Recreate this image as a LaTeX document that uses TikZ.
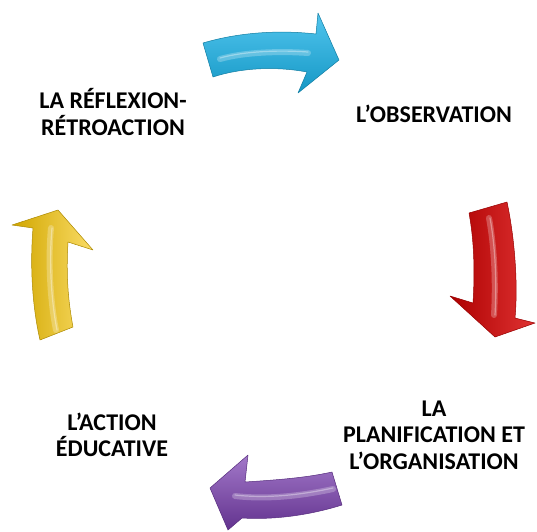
\documentclass[tikz,border=0pt]{standalone}
\usepackage{fontspec}
\setmainfont{Carlito}
\usetikzlibrary{positioning}
\usetikzlibrary{shadings}

\definecolor{cycleblue}{HTML}{18B2E8}
\definecolor{cyclered}{HTML}{D80000}
\definecolor{cyclepurple}{HTML}{7B3FB2}
\definecolor{cycleyellow}{HTML}{F6C400}

\tikzset{
  steplabel/.style={font=\bfseries\fontsize{24}{26.5}\selectfont, align=center, inner sep=0pt},
  bodyedge/.style={draw=#1!70!black, line width=0.5pt, line join=round},
  ridge/.style={draw=white, opacity=0.25, line width=6pt, line cap=round},
  ridgeline/.style={draw=white, opacity=0.35, line width=1.2pt, line cap=round}
}

\begin{document}
\begin{tikzpicture}[x=1pt,y=-1pt]
  \useasboundingbox (0,0) rectangle (537,531);

  % the four stages
  \node[steplabel] (reflexion) at (113,112) {LA RÉFLEXION-\\RÉTROACTION};
  \node[steplabel] (observation) at (434,114) {L’OBSERVATION};
  \node[steplabel] (planification) at (434,435) {LA\\PLANIFICATION ET\\L’ORGANISATION};
  \node[steplabel] (action) at (112,435) {L’ACTION\\ÉDUCATIVE};

  % blue arrow (top)
  \shade[bodyedge=cycleblue, top color=cycleblue!75!white, middle color=cycleblue, bottom color=cycleblue!85!black]
    (203,43) .. controls (240,32) and (280,30) .. (316,34) -- (318,13) -- (339,60)
    -- (298,93) -- (307,72) .. controls (275,66) and (240,68) .. (213,77) -- cycle;
  \draw[ridge] (220,59) .. controls (245,52) and (280,51) .. (308,53);
  \draw[ridgeline] (220,58) .. controls (245,51) and (280,50) .. (308,52);

  % red arrow (right)
  \shade[bodyedge=cyclered, left color=cyclered!80!black, middle color=cyclered, right color=cyclered!80!white]
    (469,213) -- (507,202) .. controls (515,240) and (518,285) .. (515,318) -- (535,323)
    -- (495,337) -- (450,296) -- (473,303) .. controls (475,270) and (474,240) .. (469,213) -- cycle;
  \draw[ridge] (489,218) .. controls (494,245) and (496,280) .. (494,315);
  \draw[ridgeline] (490,218) .. controls (495,245) and (497,280) .. (495,315);

  % purple arrow (bottom)
  \shade[bodyedge=cyclepurple, top color=cyclepurple!70!white, middle color=cyclepurple, bottom color=cyclepurple!80!black]
    (210,488) -- (248,455) -- (245,482) .. controls (275,480) and (305,478) .. (332,472)
    -- (342,505) .. controls (310,515) and (275,520) .. (242,518) -- (228,530) -- cycle;
  \draw[ridge] (235,496) .. controls (270,500) and (305,495) .. (333,489);
  \draw[ridgeline] (235,495) .. controls (270,499) and (305,494) .. (333,488);

  % yellow arrow (left)
  \shade[bodyedge=cycleyellow, left color=cycleyellow!85!black, middle color=cycleyellow, right color=cycleyellow!60!white]
    (58,210) -- (93,250) -- (68,242) .. controls (66,275) and (68,300) .. (73,327)
    -- (40,340) .. controls (32,305) and (30,265) .. (33,228) -- (12,225) -- cycle;
  \draw[ridge] (51,228) .. controls (48,260) and (50,300) .. (56,330);
  \draw[ridgeline] (52,228) .. controls (49,260) and (51,300) .. (57,330);
\end{tikzpicture}
\end{document}
